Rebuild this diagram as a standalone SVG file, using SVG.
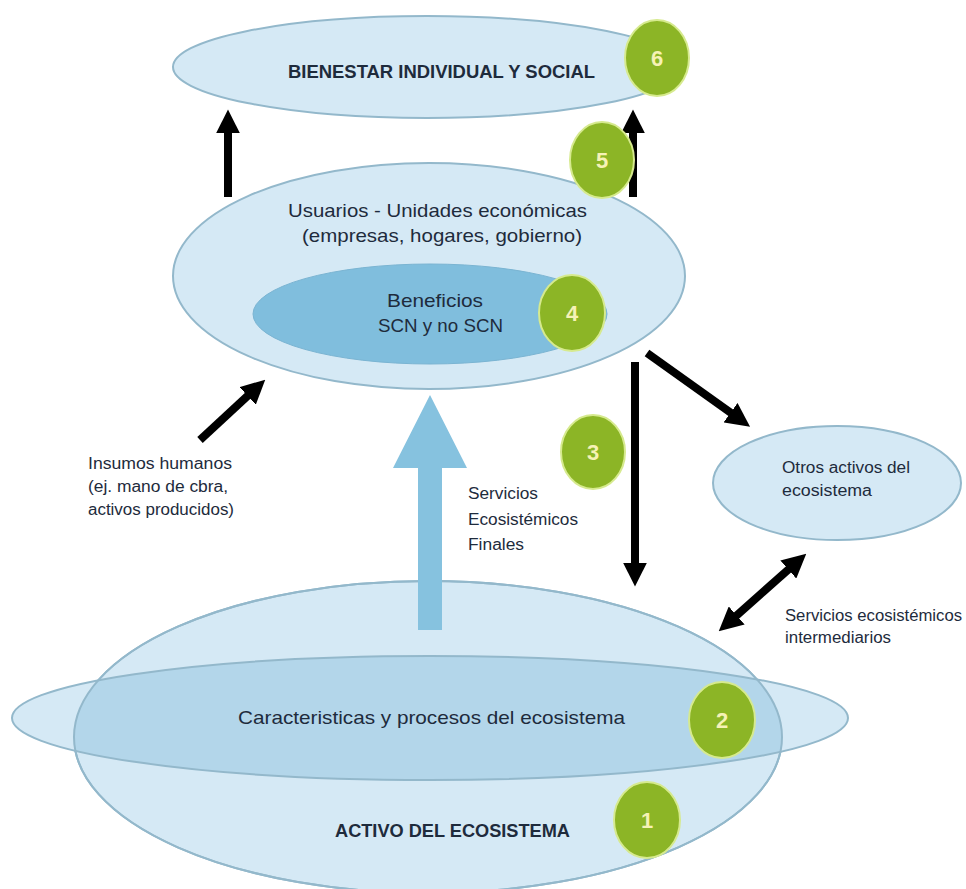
<svg xmlns="http://www.w3.org/2000/svg" width="966" height="889" viewBox="0 0 966 889">
  <style>
    .ell { fill: #d5e9f5; stroke: #93b8cb; stroke-width: 2; }
    .inner { fill: #80bedd; stroke: #7ab4d2; stroke-width: 1; }
    .band-dark { fill: #b3d6ea; }
    .line { fill: none; stroke: #93b8cb; stroke-width: 2; }
    .lbl { font-family: "Liberation Sans", Arial, sans-serif; fill: #1e2b3c; }
    .big { font-size: 19px; }
    .small { font-size: 16px; }
    .caps { font-size: 19px; font-weight: bold; }
    .badge ellipse { fill: #8cb526; stroke: #d6ea8e; stroke-width: 2; }
    .badge text { font-family: "Liberation Sans", Arial, sans-serif; font-size: 22px; font-weight: bold; fill: #f6f2b6; text-anchor: middle; }
    .conn { stroke: #000; stroke-width: 8; fill: none; }
  </style>
  <defs>
    <marker id="head" viewBox="0 0 10 10" refX="1" refY="5" markerWidth="3" markerHeight="3" markerUnits="strokeWidth" orient="auto-start-reverse">
      <path d="M0,0 L10,5 L0,10 z" fill="#000"/>
    </marker>
    <clipPath id="assetClip">
      <ellipse cx="428" cy="737" rx="354" ry="156"/>
    </clipPath>
  </defs>

  <rect width="966" height="889" fill="#ffffff"/>

  <!-- Ecosystem asset with its characteristics band -->
  <g id="activo">
    <ellipse class="ell" cx="428" cy="737" rx="354" ry="156"/>
  </g>
  <g id="caracteristicas">
    <ellipse cx="430" cy="718" rx="418" ry="62" fill="#d5e9f5"/>
    <ellipse class="band-dark" cx="430" cy="718" rx="418" ry="62" clip-path="url(#assetClip)"/>
    <ellipse class="line" cx="430" cy="718" rx="418" ry="62"/>
    <ellipse class="line" cx="428" cy="737" rx="354" ry="156"/>
    <text class="lbl big" x="238" y="724" textLength="387" lengthAdjust="spacingAndGlyphs">Caracteristicas y procesos del ecosistema</text>
  </g>
  <g id="activo-label">
    <text class="lbl caps" x="335" y="837" textLength="235" lengthAdjust="spacingAndGlyphs">ACTIVO DEL ECOSISTEMA</text>
  </g>

  <!-- Wellbeing -->
  <g id="bienestar">
    <ellipse class="ell" cx="427" cy="67" rx="254" ry="51"/>
    <text class="lbl caps" x="288" y="78" textLength="307" lengthAdjust="spacingAndGlyphs">BIENESTAR INDIVIDUAL Y SOCIAL</text>
  </g>

  <!-- Users / economic units with benefits -->
  <g id="usuarios">
    <ellipse class="ell" cx="429" cy="276" rx="256" ry="113"/>
    <text class="lbl big" x="288" y="217" textLength="299" lengthAdjust="spacingAndGlyphs">Usuarios - Unidades económicas</text>
    <text class="lbl big" x="302" y="242" textLength="280" lengthAdjust="spacingAndGlyphs">(empresas, hogares, gobierno)</text>
  </g>
  <g id="beneficios">
    <ellipse class="inner" cx="430" cy="314" rx="177" ry="50"/>
    <text class="lbl big" x="387" y="307" textLength="96" lengthAdjust="spacingAndGlyphs">Beneficios</text>
    <text class="lbl big" x="378" y="332" textLength="125" lengthAdjust="spacingAndGlyphs">SCN y no SCN</text>
  </g>

  <!-- Other ecosystem assets -->
  <g id="otros">
    <ellipse class="ell" cx="837" cy="483" rx="124" ry="57"/>
    <text class="lbl small" x="782" y="473" textLength="128" lengthAdjust="spacingAndGlyphs">Otros activos del</text>
    <text class="lbl small" x="782" y="496" textLength="90" lengthAdjust="spacingAndGlyphs">ecosistema</text>
  </g>

  <!-- Free-standing labels -->
  <g id="insumos">
    <text class="lbl small" x="88" y="469" textLength="144" lengthAdjust="spacingAndGlyphs">Insumos humanos</text>
    <text class="lbl small" x="88" y="492" textLength="140" lengthAdjust="spacingAndGlyphs">(ej. mano de cbra,</text>
    <text class="lbl small" x="88" y="515" textLength="146" lengthAdjust="spacingAndGlyphs">activos producidos)</text>
  </g>
  <g id="servicios-finales">
    <text class="lbl small" x="468" y="499" textLength="70" lengthAdjust="spacingAndGlyphs">Servicios</text>
    <text class="lbl small" x="468" y="525" textLength="110" lengthAdjust="spacingAndGlyphs">Ecosistémicos</text>
    <text class="lbl small" x="468" y="550" textLength="56" lengthAdjust="spacingAndGlyphs">Finales</text>
  </g>
  <g id="servicios-intermedios">
    <text class="lbl small" x="785" y="621" textLength="177" lengthAdjust="spacingAndGlyphs">Servicios ecosistémicos</text>
    <text class="lbl small" x="785" y="643" textLength="106" lengthAdjust="spacingAndGlyphs">intermediarios</text>
  </g>

  <!-- Connectors -->
  <g id="connectors">
    <polygon points="418,630 442,630 442,468 467,468 430,395 393,468 418,468" fill="#86c2df"/>
    <line class="conn" x1="228" y1="197" x2="228" y2="131" marker-end="url(#head)"/>
    <line class="conn" x1="633" y1="197" x2="633" y2="131" marker-end="url(#head)"/>
    <line class="conn" x1="200" y1="440" x2="249.4" y2="394.3" marker-end="url(#head)"/>
    <line class="conn" x1="635" y1="362" x2="635" y2="565" stroke-width="7" marker-end="url(#head)"/>
    <line class="conn" x1="647" y1="353" x2="732.5" y2="414.1" marker-end="url(#head)"/>
    <line class="conn" x1="734.9" y1="617" x2="790.1" y2="568" marker-start="url(#head)" marker-end="url(#head)"/>
  </g>

  <!-- Numbered badges -->
  <g id="badge-1" class="badge"><ellipse cx="647" cy="820" rx="33" ry="38"/><text x="647" y="828">1</text></g>
  <g id="badge-2" class="badge"><ellipse cx="722" cy="720" rx="33" ry="38"/><text x="722" y="728">2</text></g>
  <g id="badge-3" class="badge"><ellipse cx="593" cy="452" rx="32" ry="37"/><text x="593" y="460">3</text></g>
  <g id="badge-4" class="badge"><ellipse cx="572" cy="313" rx="33" ry="38"/><text x="572" y="321">4</text></g>
  <g id="badge-5" class="badge"><ellipse cx="602" cy="160" rx="32" ry="38"/><text x="602" y="168">5</text></g>
  <g id="badge-6" class="badge"><ellipse cx="657" cy="58" rx="32" ry="38"/><text x="657" y="66">6</text></g>
</svg>
